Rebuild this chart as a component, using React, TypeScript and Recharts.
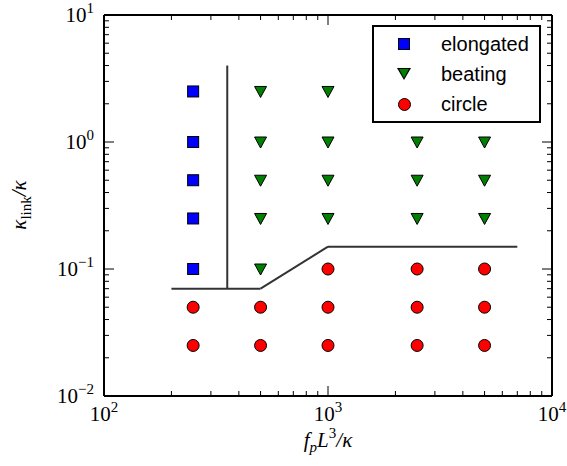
import { ScatterChart, Scatter, XAxis, YAxis, ReferenceLine } from 'recharts'

const elongated = [
  { x: 250, y: 2.5 },
  { x: 250, y: 1.0 },
  { x: 250, y: 0.5 },
  { x: 250, y: 0.25 },
  { x: 250, y: 0.1 },
]

const beating = [
  { x: 500, y: 2.5 },
  { x: 500, y: 1.0 },
  { x: 500, y: 0.5 },
  { x: 500, y: 0.25 },
  { x: 500, y: 0.1 },
  { x: 1000, y: 2.5 },
  { x: 1000, y: 1.0 },
  { x: 1000, y: 0.5 },
  { x: 1000, y: 0.25 },
  { x: 2500, y: 1.0 },
  { x: 2500, y: 0.5 },
  { x: 2500, y: 0.25 },
  { x: 5000, y: 1.0 },
  { x: 5000, y: 0.5 },
  { x: 5000, y: 0.25 },
]

const circle = [
  { x: 250, y: 0.05 },
  { x: 250, y: 0.025 },
  { x: 500, y: 0.05 },
  { x: 500, y: 0.025 },
  { x: 1000, y: 0.1 },
  { x: 1000, y: 0.05 },
  { x: 1000, y: 0.025 },
  { x: 2500, y: 0.1 },
  { x: 2500, y: 0.05 },
  { x: 2500, y: 0.025 },
  { x: 5000, y: 0.1 },
  { x: 5000, y: 0.05 },
  { x: 5000, y: 0.025 },
]

// phase boundaries
const boundaryV = [
  { x: 355, y: 0.07 },
  { x: 355, y: 4 },
]
const boundaryH = [
  { x: 200, y: 0.07 },
  { x: 500, y: 0.07 },
  { x: 1000, y: 0.15 },
  { x: 7000, y: 0.15 },
]

const xTicks = [
  100, 200, 300, 400, 500, 600, 700, 800, 900,
  1000, 2000, 3000, 4000, 5000, 6000, 7000, 8000, 9000, 10000,
]
const yTicks = [
  0.01, 0.02, 0.03, 0.04, 0.05, 0.06, 0.07, 0.08, 0.09,
  0.1, 0.2, 0.3, 0.4, 0.5, 0.6, 0.7, 0.8, 0.9,
  1, 2, 3, 4, 5, 6, 7, 8, 9, 10,
]

const W = 567
const H = 466
const M = { top: 15, right: 15, bottom: 0, left: 0 }
const X_AXIS_H = 70
const Y_AXIS_W = 104
const PLOT_W = W - M.left - M.right - Y_AXIS_W
const PLOT_H = H - M.top - M.bottom - X_AXIS_H

const exp10 = (v: number) => Math.round(Math.log10(v))
const isMajor = (v: number) => Math.abs(Math.log10(v) - exp10(v)) < 1e-9

const MAJOR = 10
const MINOR = 5

// bottom ticks, mirrored on the top edge
function BottomTick(props: any) {
  const { x, y, payload } = props
  const v = payload.value
  const len = isMajor(v) ? MAJOR : MINOR
  return (
    <g>
      <line x1={x} x2={x} y1={y} y2={y - len} stroke="#000" strokeWidth={1} />
      <line x1={x} x2={x} y1={y - PLOT_H} y2={y - PLOT_H + len} stroke="#000" strokeWidth={1} />
      {isMajor(v) && (
        <text x={x} y={y + 25} textAnchor="middle" fontSize={21} fill="#000">
          10<tspan dy={-9} fontSize={15}>{exp10(v)}</tspan>
        </text>
      )}
    </g>
  )
}

// left ticks, mirrored on the right edge
function LeftTick(props: any) {
  const { x, y, payload } = props
  const v = payload.value
  const len = isMajor(v) ? MAJOR : MINOR
  const e = exp10(v)
  return (
    <g>
      <line x1={x} x2={x + len} y1={y} y2={y} stroke="#000" strokeWidth={1} />
      <line x1={x + PLOT_W} x2={x + PLOT_W - len} y1={y} y2={y} stroke="#000" strokeWidth={1} />
      {isMajor(v) && (
        <text x={x - 10} y={y + 7} textAnchor="end" fontSize={21} fill="#000">
          10<tspan dy={-9} fontSize={15}>{e < 0 ? '\u2212' + -e : e}</tspan>
        </text>
      )}
    </g>
  )
}

function XTitle() {
  return (
    <text x={328} y={447} textAnchor="middle" fontSize={21} fontStyle="italic" fill="#000">
      f<tspan dy={5} fontSize={15}>p</tspan>
      <tspan dy={-5}>L</tspan>
      <tspan dy={-9} fontSize={15} fontStyle="normal">3</tspan>
      <tspan dy={9}>/κ</tspan>
    </text>
  )
}

function YTitle() {
  return (
    <text x={0} y={0} transform="translate(26,205) rotate(-90)" textAnchor="middle" fontSize={21} fontStyle="italic" fill="#000">
      κ<tspan dy={5} fontSize={15} fontStyle="normal">link</tspan>
      <tspan dy={-5}>/κ</tspan>
    </text>
  )
}

function Square({ cx, cy }: any) {
  return <rect x={cx - 5.5} y={cy - 5.5} width={11} height={11} fill="#0000ff" stroke="#000" strokeWidth={1} />
}
function TriDown({ cx, cy }: any) {
  return (
    <polygon
      points={`${cx - 6},${cy - 5} ${cx + 6},${cy - 5} ${cx},${cy + 6}`}
      fill="#007f00"
      stroke="#000"
      strokeWidth={1}
    />
  )
}
function Dot({ cx, cy }: any) {
  return <circle cx={cx} cy={cy} r={6} fill="#ff0000" stroke="#000" strokeWidth={1} />
}

// legend swatches in plain CSS
function SquareKey() {
  return <div style={{ width: 12, height: 12, boxSizing: 'border-box', background: '#0000ff', border: '1px solid #000' }} />
}
function TriKey() {
  return (
    <div style={{ position: 'relative', width: 14, height: 12 }}>
      <div style={{ position: 'absolute', left: 0, top: 0, width: 0, height: 0, borderLeft: '7px solid transparent', borderRight: '7px solid transparent', borderTop: '12px solid #000' }} />
      <div style={{ position: 'absolute', left: 2, top: 1, width: 0, height: 0, borderLeft: '5px solid transparent', borderRight: '5px solid transparent', borderTop: '9px solid #007f00' }} />
    </div>
  )
}
function DotKey() {
  return <div style={{ width: 13, height: 13, boxSizing: 'border-box', borderRadius: '50%', background: '#ff0000', border: '1px solid #000' }} />
}

const legendItems = [
  { name: 'elongated', Key: SquareKey },
  { name: 'beating', Key: TriKey },
  { name: 'circle', Key: DotKey },
]

const segments = (pts: { x: number; y: number }[]) => pts.slice(1).map((p, i) => [pts[i], p])

const axisLine = { stroke: '#000', strokeWidth: 2 }

export default function App() {
  return (
    <div
      style={{
        position: 'absolute',
        left: 0,
        top: 0,
        width: W,
        height: H,
        fontFamily: '"Liberation Serif", "DejaVu Serif", serif',
      }}
    >
      <ScatterChart width={W} height={H} margin={M}>
        <XAxis
          type="number"
          dataKey="x"
          scale="log"
          domain={[100, 10000]}
          ticks={xTicks}
          interval={0}
          height={X_AXIS_H}
          tickSize={0}
          tickMargin={0}
          tickLine={false}
          axisLine={axisLine}
          tick={<BottomTick />}
          label={{ content: <XTitle /> }}
          allowDataOverflow
        />
        <YAxis
          type="number"
          dataKey="y"
          scale="log"
          domain={[0.01, 10]}
          ticks={yTicks}
          interval={0}
          width={Y_AXIS_W}
          tickSize={0}
          tickMargin={0}
          tickLine={false}
          axisLine={axisLine}
          tick={<LeftTick />}
          label={{ content: <YTitle /> }}
          allowDataOverflow
        />
        <ReferenceLine y={10} stroke="#000" strokeWidth={2} />
        <ReferenceLine x={10000} stroke="#000" strokeWidth={2} />
        <ReferenceLine y={0.01} stroke="#000" strokeWidth={2} />
        <ReferenceLine x={100} stroke="#000" strokeWidth={2} />
        {[...segments(boundaryV), ...segments(boundaryH)].map((seg, i) => (
          <ReferenceLine key={i} segment={seg} stroke="#333" strokeWidth={2} />
        ))}
        <Scatter name="elongated" data={elongated} shape={(p: any) => <Square cx={p.cx} cy={p.cy} />} isAnimationActive={false} />
        <Scatter name="beating" data={beating} shape={(p: any) => <TriDown cx={p.cx} cy={p.cy} />} isAnimationActive={false} />
        <Scatter name="circle" data={circle} shape={(p: any) => <Dot cx={p.cx} cy={p.cy} />} isAnimationActive={false} />
      </ScatterChart>
      <div
        style={{
          position: 'absolute',
          left: 372,
          top: 25,
          width: 165,
          height: 94,
          border: '2px solid #000',
          background: '#fff',
          fontFamily: '"Liberation Sans", Arial, sans-serif',
          fontSize: 20,
          color: '#000',
        }}
      >
        {legendItems.map(({ name, Key }, i) => (
          <div key={name} style={{ position: 'absolute', left: 0, top: 4 + i * 30, height: 26, display: 'flex', alignItems: 'center' }}>
            <div style={{ width: 60, display: 'flex', justifyContent: 'center' }}>
              <Key />
            </div>
            <span style={{ marginLeft: 7 }}>{name}</span>
          </div>
        ))}
      </div>
    </div>
  )
}
